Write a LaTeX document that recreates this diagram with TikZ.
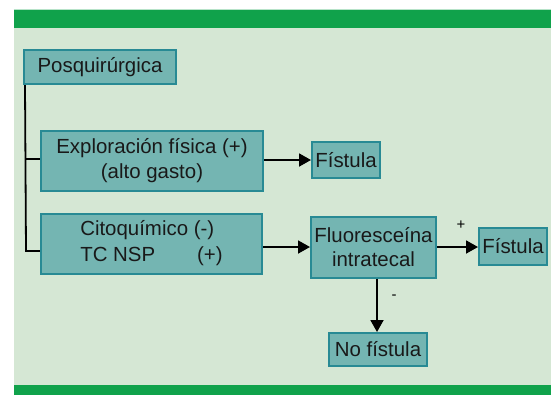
\documentclass[tikz,border=0pt]{standalone}
\usepackage{fontspec}
\setmainfont{Liberation Sans}
\usetikzlibrary{arrows.meta}
\definecolor{panel}{RGB}{213,231,212}
\definecolor{band}{RGB}{16,162,75}
\definecolor{boxfill}{RGB}{116,181,178}
\definecolor{boxline}{RGB}{40,138,148}
\begin{document}
\begin{tikzpicture}[x=1bp,y=-1bp,
  box/.style={draw=boxline,fill=boxfill,line width=2bp,inner sep=0pt,
    font=\fontsize{20.5}{24.5}\selectfont,text=black!90,align=center},
  conn/.style={line width=1.8bp,black},
  arr/.style={conn,-{Triangle[length=12bp,width=13bp]}},
  lbl/.style={font=\fontsize{15}{17}\selectfont,inner sep=0pt}]
\useasboundingbox (0,0) rectangle (551,395);
\fill[white] (0,0) rectangle (551,395);
\fill[panel] (13.5,28) rectangle (551,385);
\fill[band] (13.5,9.5) rectangle (551,28);
\fill[band] (13.5,385) rectangle (551,395);
\draw[white!70!band,line width=0.6bp] (13.5,9.5) -- (551,9.5);

\node[box,minimum width=152bp,minimum height=34.5bp] (pos) at (100,66.75) {Posquir\'urgica};
\node[box,minimum width=222bp,minimum height=60bp] (exp) at (152,160.5) {Exploraci\'on f\'isica (+)\\(alto gasto)};
\node[box,minimum width=68bp,minimum height=36bp] (f1) at (346,160) {F\'istula};
\node[box,minimum width=221bp,minimum height=59.5bp] (cit) at (151.5,244)
  {\begin{tabular}{@{}l@{}}Citoqu\'imico (-)\\[1.5bp]TC NSP\hspace*{42bp}(+)\end{tabular}};
\node[box,minimum width=125bp,minimum height=61bp] (flu) at (373.5,247) {Fluoresce\'ina\\intratecal};
\node[box,minimum width=68bp,minimum height=37bp] (f2) at (513,246.5) {F\'istula};
\node[box,minimum width=98bp,minimum height=33bp] (nof) at (378,349.5) {No f\'istula};

\coordinate (top) at ([xshift=2bp]pos.south west);
\coordinate (b1) at (26,159);
\coordinate (b2) at (26,251);
\draw[conn] (top) -- (b2) -- (b2 -| cit.west);
\draw[conn] (b1) -- (b1 -| exp.west);

\draw[arr] (exp.east |- f1.west) -- (f1.west);
\draw[arr] (cit.east |- flu.west) -- (flu.west);
\draw[arr] (flu.east) -- (f2.west |- flu.east);
\draw[arr] ([xshift=3.5bp]flu.south) -- ([xshift=3.5bp]flu.south |- nof.north);

\node[lbl] (plus) at (461,225) {+};
\node[lbl] (minus) at (394,297) {-};
\end{tikzpicture}
\end{document}
